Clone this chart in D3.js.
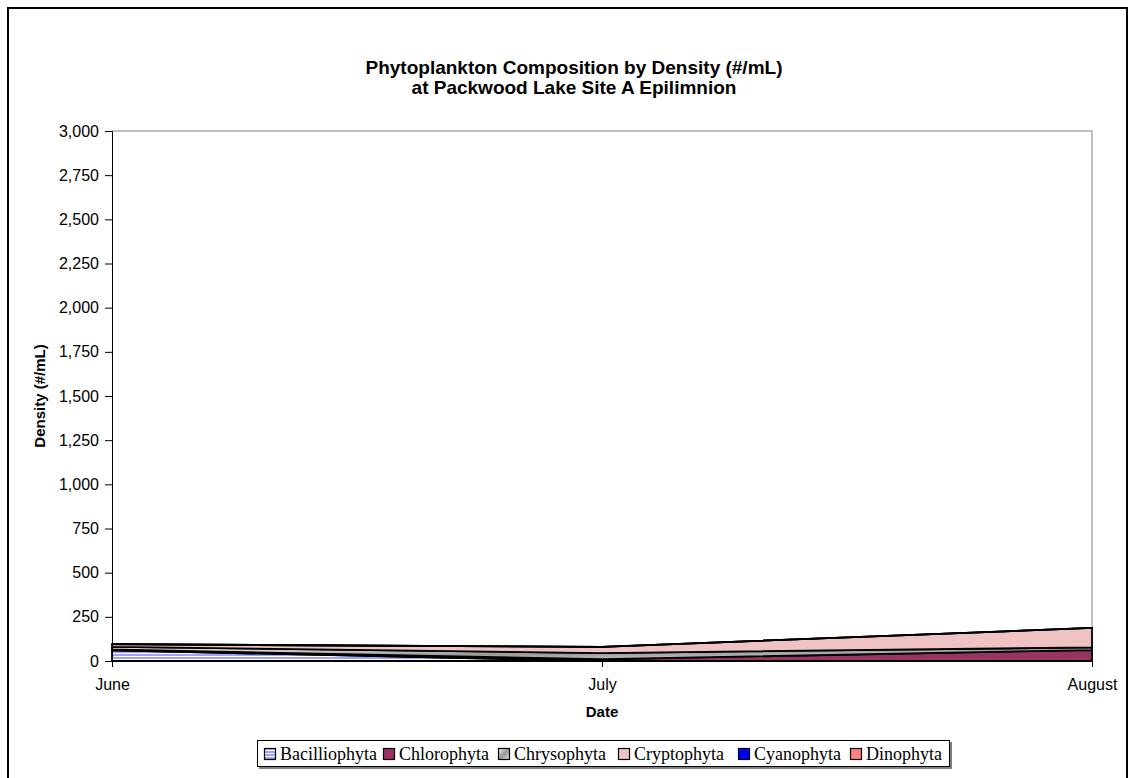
<!DOCTYPE html>
<html>
<head>
<meta charset="utf-8">
<script src="https://cdn.jsdelivr.net/npm/d3@7"></script>
<style>
  html, body { margin: 0; padding: 0; background: #fff; }
  svg { display: block; }
</style>
</head>
<body>
<svg id="chart" width="1129" height="778"></svg>
<script>
// Sampling months along the x axis
const months = ["June", "July", "August"];

// Density (#/mL) per division, one value per month
const bacilliophyta = [60, 0, 0];
const chlorophyta   = [5, 10, 62];
const chrysophyta   = [15, 35, 15];
const cryptophyta   = [15, 35, 110];
const cyanophyta    = [0, 0, 0];
const dinophyta     = [0, 0, 0];

const seriesNames = ["Bacilliophyta", "Chlorophyta", "Chrysophyta", "Cryptophyta", "Cyanophyta", "Dinophyta"];
const seriesValues = [bacilliophyta, chlorophyta, chrysophyta, cryptophyta, cyanophyta, dinophyta];

// Y axis ticks
const yTicks = [0, 250, 500, 750, 1000, 1250, 1500, 1750, 2000, 2250, 2500, 2750, 3000];

const SANS = "Arial, 'Liberation Sans', sans-serif";
const SERIF = "'Times New Roman', 'Liberation Serif', serif";

const svg = d3.select("#chart");
const defs = svg.append("defs");

// Striped lavender fill
const stripe = defs.append("pattern").attr("id", "fill-bac")
  .attr("patternUnits", "userSpaceOnUse").attr("width", 6).attr("height", 3);
stripe.append("rect").attr("width", 6).attr("height", 3).attr("fill", "#ffffff");
stripe.append("rect").attr("width", 6).attr("height", 2).attr("fill", "#a0a0ff");

// Grey shaded fill
const grey = defs.append("linearGradient").attr("id", "fill-chr")
  .attr("x1", "0").attr("y1", "0").attr("x2", "1").attr("y2", "1");
grey.append("stop").attr("offset", "0").attr("stop-color", "#f4f4f4");
grey.append("stop").attr("offset", "0.5").attr("stop-color", "#9a9a9a");
grey.append("stop").attr("offset", "1").attr("stop-color", "#e0e0e0");

const fills = ["url(#fill-bac)", "#993366", "url(#fill-chr)", "#efc3c3", "#0000ff", "#ff8080"];

// Outer frame
svg.append("path")
  .attr("d", "M8,790 L8,8 L1127,8 L1127,790")
  .attr("fill", "none").attr("stroke", "#000").attr("stroke-width", 2);

const plot = { left: 112, right: 1092, top: 131, bottom: 661 };

const x = d3.scalePoint().domain(months).range([plot.left, plot.right]);
const y = d3.scaleLinear().domain([0, 3000]).range([plot.bottom, plot.top]);

// Title
const title = svg.append("text")
  .attr("text-anchor", "middle")
  .attr("font-family", SANS)
  .attr("font-weight", "bold").attr("font-size", 19).attr("fill", "#000");
title.append("tspan").attr("x", 574).attr("y", 74).text("Phytoplankton Composition by Density (#/mL)");
title.append("tspan").attr("x", 574).attr("y", 94).text("at Packwood Lake Site A Epilimnion");

// Plot area border (top/right)
svg.append("path")
  .attr("d", `M${plot.left},${plot.top} L${plot.right},${plot.top} L${plot.right},${plot.bottom}`)
  .attr("fill", "none").attr("stroke", "#808080").attr("stroke-width", 1);

// Stacked areas
const table = months.map((m, i) => {
  const row = { month: m };
  seriesNames.forEach((n, k) => { row[n] = seriesValues[k][i]; });
  return row;
});
const stacked = d3.stack().keys(seriesNames)(table);

const area = d3.area()
  .x(d => x(d.data.month))
  .y0(d => y(d[0]))
  .y1(d => y(d[1]));

svg.append("g").selectAll("path")
  .data(stacked)
  .join("path")
  .attr("d", area)
  .attr("fill", (d, i) => fills[i])
  .attr("stroke", "#000")
  .attr("stroke-width", 1.8)
  .attr("stroke-linejoin", "round");

// Y axis
const yAxis = svg.append("g")
  .attr("transform", `translate(${plot.left},0)`)
  .call(d3.axisLeft(y).tickValues(yTicks).tickFormat(d3.format(",")).tickSizeOuter(0).tickSize(7).tickPadding(6));
yAxis.select(".domain").attr("stroke", "#000");
yAxis.selectAll("line").attr("stroke", "#000");
yAxis.selectAll("text")
  .attr("font-family", SANS)
  .attr("font-size", 16).attr("fill", "#000");

// X axis
const xAxis = svg.append("g")
  .attr("transform", `translate(0,${plot.bottom})`)
  .call(d3.axisBottom(x).tickSizeOuter(0).tickSize(6).tickPadding(12));
xAxis.select(".domain").attr("stroke", "#000");
xAxis.selectAll("line").attr("stroke", "#000");
xAxis.selectAll("text")
  .attr("font-family", SANS)
  .attr("font-size", 16).attr("fill", "#000");

// Axis titles
svg.append("text")
  .attr("x", (plot.left + plot.right) / 2).attr("y", 717).attr("text-anchor", "middle")
  .attr("font-family", SANS)
  .attr("font-weight", "bold").attr("font-size", 15)
  .text("Date");

svg.append("text")
  .attr("transform", `translate(45,${(plot.top + plot.bottom) / 2}) rotate(-90)`)
  .attr("text-anchor", "middle")
  .attr("font-family", SANS)
  .attr("font-weight", "bold").attr("font-size", 15)
  .text("Density (#/mL)");

// Legend
const legend = svg.append("g");
legend.append("rect")
  .attr("x", 257.5).attr("y", 740.5).attr("width", 692).attr("height", 26)
  .attr("fill", "#fff").attr("stroke", "#000").attr("stroke-width", 1);
legend.append("path")
  .attr("d", "M259,768 L951,768 L951,742")
  .attr("fill", "none").attr("stroke", "#808080").attr("stroke-width", 2);

const legendX = [264, 383, 498, 618, 738, 850];
seriesNames.forEach((n, i) => {
  const g = legend.append("g").attr("transform", `translate(${legendX[i]},748)`);
  g.append("rect").attr("x", 0.5).attr("y", 0.5).attr("width", 11).attr("height", 11)
    .attr("fill", fills[i]).attr("stroke", "#000").attr("stroke-width", 1.2);
  g.append("text").attr("x", 16).attr("y", 12)
    .attr("font-family", SERIF)
    .attr("font-size", 18).attr("fill", "#000")
    .text(n);
});
</script>
</body>
</html>
